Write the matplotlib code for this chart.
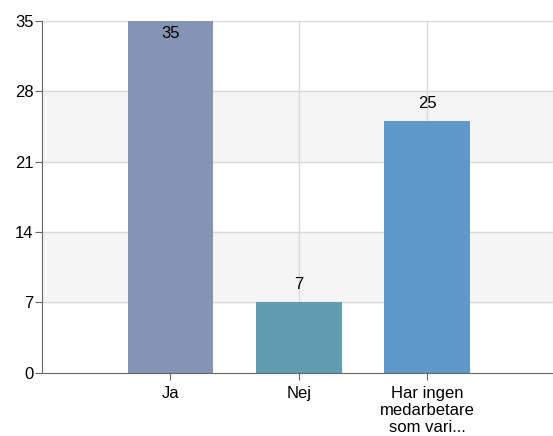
import numpy as np
import matplotlib
matplotlib.use("Agg")
import matplotlib.pyplot as plt

categories = ["Ja", "Nej", "Har ingen\nmedarbetare\nsom vari..."]
values = [35, 7, 25]
colors = ["#8594b4", "#629cb2", "#5e99c9"]
yticks = [0, 7, 14, 21, 28, 35]

plt.rcParams['font.family'] = ['Liberation Sans', 'DejaVu Sans']

fig = plt.figure(figsize=(5.53, 4.36), dpi=100)
ax = fig.add_axes([0.0759, 0.1456, 0.9241, 0.8062])

x = np.arange(len(categories))

# alternating bands
for i in range(len(yticks) - 1):
    if i % 2 == 1:
        ax.axhspan(yticks[i], yticks[i + 1], color="#f5f5f5", zorder=0)
for t in yticks[1:]:
    ax.axhline(t, color="#d9d9d9", lw=1, zorder=1)
for xi in x:
    ax.axvline(xi, color="#d9d9d9", lw=1, zorder=1)

ax.bar(x, values, width=0.667, color=colors, zorder=2)

for xi, v in zip(x, values):
    if v >= max(yticks):
        ax.text(xi, v - 0.45, str(v), ha="center", va="top", fontsize=12, zorder=3)
    else:
        ax.text(xi, v + 1.0, str(v), ha="center", va="bottom", fontsize=12, zorder=3)

ax.set_xlim(-1.0, 2.98)
ax.set_ylim(0, 35)
ax.set_yticks(yticks)
ax.set_xticks(x)
ax.set_xticklabels(categories, fontsize=12, linespacing=1.15)
ax.tick_params(axis="y", labelsize=12, length=5, color="#666666", pad=1)
ax.tick_params(axis="x", length=5, color="#666666", pad=5)

for s in ["top", "right"]:
    ax.spines[s].set_visible(False)
ax.spines["left"].set_color("#666666")
ax.spines["bottom"].set_color("#666666")

fig.savefig("out.png", dpi=100)
